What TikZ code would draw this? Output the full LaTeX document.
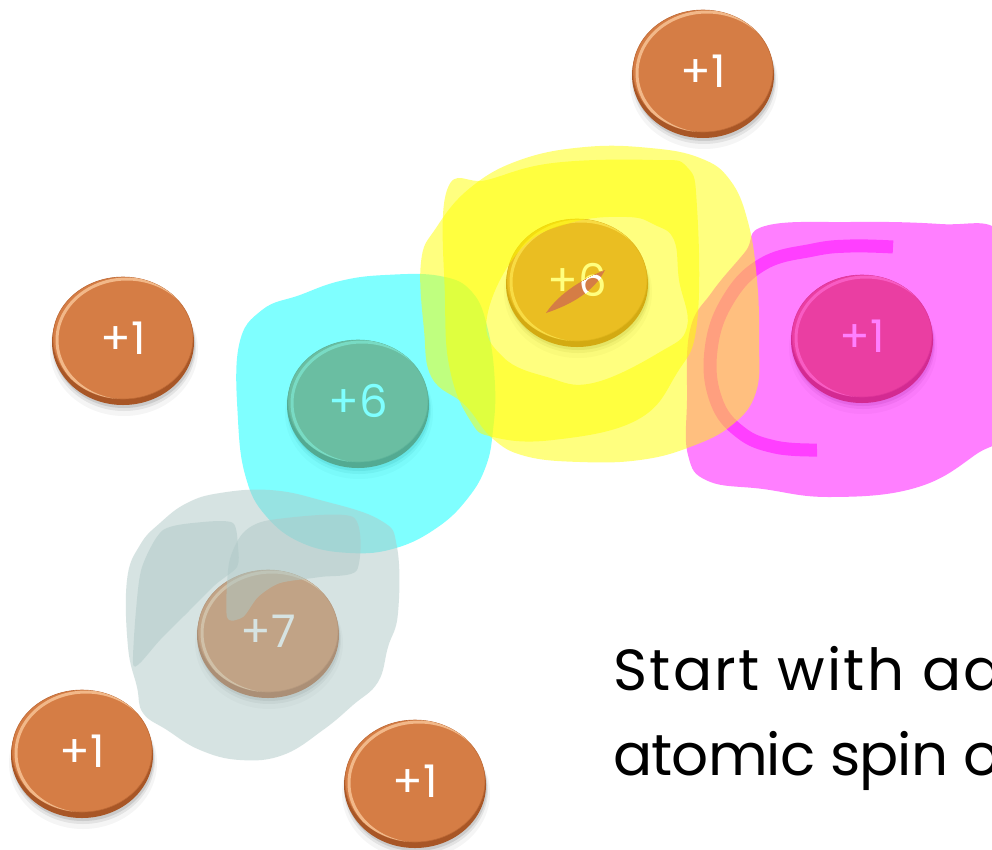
\documentclass[tikz,border=0pt]{standalone}
\usepackage{fontspec}
\newfontfamily\labelfont{Poppins}
\newfontfamily\captionwide{Poppins}[LetterSpace=4]
\newfontfamily\captiontight{Poppins}[LetterSpace=-1.5]
\usetikzlibrary{shapes.geometric}

\definecolor{coinorange}{RGB}{213,125,69}
\definecolor{coinedge}{RGB}{168,86,38}
\definecolor{coinshine}{RGB}{252,205,160}
\definecolor{hlcyan}{RGB}{0,255,255}
\definecolor{hlmagenta}{RGB}{255,0,255}
\definecolor{hlyellow}{RGB}{255,255,0}
\definecolor{hlgrey}{RGB}{175,201,199}

\tikzset{
  coinface/.style={ellipse, fill=coinorange, draw=coinedge!50!coinorange,
    line width=0.6pt, minimum width=140pt, minimum height=122pt, inner sep=0pt,
    text=white, font=\labelfont\fontsize{45}{45}\selectfont},
  marker/.style={fill=#1, fill opacity=0.5},
  markerline/.style={draw=#1, draw opacity=0.5, line width=13pt, line cap=butt},
  caption/.style={anchor=base west, inner sep=0pt, text=black},
}

% one coin: name, x, y, label
\newcommand\drawcoin[4]{%
  \begin{scope}[shift={(#2,#3)}]
    \fill[black, opacity=0.04] (1,10) ellipse [x radius=74, y radius=66];
    \fill[black, opacity=0.07] (1,7) ellipse [x radius=72, y radius=64];
    \fill[black, opacity=0.10] (1,5) ellipse [x radius=71, y radius=63];
    \fill[coinedge] (0,2) ellipse [x radius=71, y radius=63];
    \node[coinface] (#1) at (0,-2) {\raisebox{-4pt}{#4}};
    \begin{scope}
      \clip (0,-2) ellipse [x radius=70, y radius=61];
      \draw[coinshine, line width=3pt, opacity=0.75] (4,0) ellipse [x radius=70, y radius=61];
    \end{scope}
  \end{scope}}

\begin{document}
\begin{tikzpicture}[x=1pt, y=-1pt]
\clip (0,0) rectangle (992,849);
\fill[white] (0,0) rectangle (992,849);

% coins
\drawcoin{hTop}{703}{73}{+1}
\drawcoin{hLeft}{123}{340}{+1}
\drawcoin{cRight}{577}{282}{+6}
\drawcoin{hRight}{862}{338}{+1}
\drawcoin{cLeft}{358}{403}{+6}
\drawcoin{nitrogen}{268}{633}{+7}
\drawcoin{hLow}{82}{753}{+1}
\drawcoin{hBottom}{415}{783}{+1}

% cyan marker round the left carbon
\fill[marker=hlcyan] plot[smooth cycle, tension=0.7] coordinates {
  (300,295) (340,281) (385,275) (440,276) (472,292) (488,330) (495,385)
  (493,430) (486,466) (468,498) (438,527) (396,548) (350,553) (302,543)
  (266,516) (246,478) (238,420) (239,345) (262,310)};

% magenta marker round the right hydrogen
\fill[marker=hlmagenta] plot[smooth cycle, tension=0.7] coordinates {
  (765,226) (850,222) (940,224) (1000,232) (1010,300) (1010,420) (975,455)
  (915,488) (830,497) (763,489) (708,481) (688,455) (687,400) (690,330)
  (712,292) (745,252)};
\draw[markerline=hlmagenta] plot[smooth, tension=0.7] coordinates {
  (893,247) (850,246) (813,250) (763,264) (728,300) (711,350) (716,400)
  (740,432) (775,447) (817,450)};

% yellow marker round the right carbon
\fill[marker=hlyellow] plot[smooth cycle, tension=0.7] coordinates {
  (470,188) (520,160) (585,147) (650,148) (700,158) (730,180) (748,222)
  (757,280) (759,340) (756,392) (732,425) (690,447) (640,460) (580,462)
  (525,456) (492,438) (465,405) (432,378) (424,330) (421,262) (436,228)};
\fill[marker=hlyellow, even odd rule]
  plot[smooth cycle, tension=0.7] coordinates {
  (447,190) (487,180) (553,163) (653,160) (687,167) (697,207) (697,323)
  (677,373) (637,420) (553,440) (493,437) (470,420) (450,370) (445,300)}
  plot[smooth cycle, tension=0.7] coordinates {
  (487,317) (520,250) (570,223) (627,217) (655,225) (674,240) (679,280)
  (687,327) (660,352) (593,383) (547,377) (503,357)};

% uncovered streak across the right carbon
\path[fill=coinorange] (546,313) .. controls (560,292) and (585,278) .. (605,270)
  .. controls (594,292) and (570,305) .. (546,313);
\begin{scope}
  \clip (546,313) .. controls (560,292) and (585,278) .. (605,270)
    .. controls (594,292) and (570,305) .. (546,313);
  \node[ellipse, minimum width=140pt, minimum height=122pt, inner sep=0pt,
    text=white, font=\labelfont\fontsize{45}{45}\selectfont] (cRightLabel)
    at (577,280) {\raisebox{-4pt}{+6}};
\end{scope}

% grey marker round the nitrogen
\fill[marker=hlgrey] plot[smooth cycle, tension=0.7] coordinates {
  (187,503) (220,493) (270,490) (320,500) (380,520) (397,547) (398,613)
  (388,647) (378,682) (353,705) (323,730) (283,755) (240,760) (200,750)
  (167,730) (143,713) (137,687) (128,647) (127,580) (140,545) (160,523)};
\fill[marker=hlgrey] plot[smooth cycle, tension=0.45] coordinates {
  (133,663) (136,610) (142,567) (163,530) (203,522) (233,523) (238,547)
  (237,567) (215,585) (187,613) (160,640) (140,663)};
\fill[marker=hlgrey] plot[smooth cycle, tension=0.45] coordinates {
  (227,617) (229,563) (243,533) (270,520) (353,517) (357,570) (320,577)
  (280,583) (258,597) (243,617)};

% caption
\node[caption, font=\captionwide\fontsize{58}{58}\selectfont] (line1)
  at (613,690) {Start with ad};
\node[caption, font=\captiontight\fontsize{58}{58}\selectfont] (line2)
  at (613,775) {atomic spin o};
\end{tikzpicture}
\end{document}
